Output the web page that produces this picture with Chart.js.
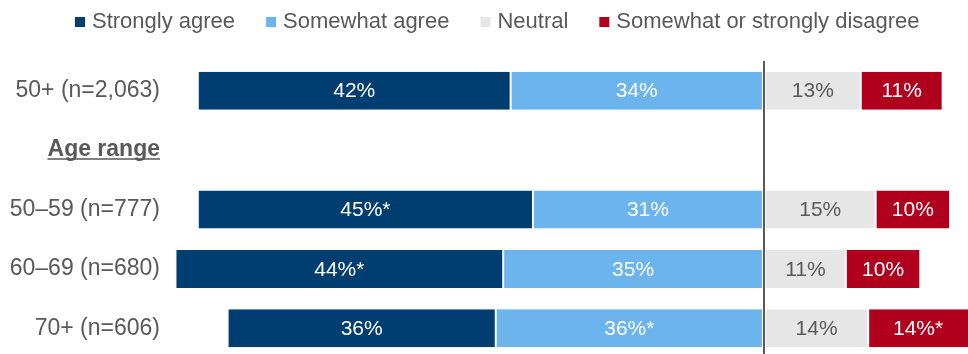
<!DOCTYPE html>
<html>
<head>
    <meta charset="utf-8">
    <title>Agreement by age range</title>
    <style>
        html, body {
            margin: 0;
            padding: 0;
            background: #ffffff;
            overflow: hidden;
        }

        .chart-wrap {
            position: relative;
            width: 968px;
            height: 358px;
        }
    </style>
</head>
<body>
    <div class="chart-wrap">
        <canvas id="chart"></canvas>
    </div>

    <script src="https://cdn.jsdelivr.net/npm/chart.js"></script>
    <script>
        // Rows (the "Age range" row is a heading with no bars)
        var rowLabels = ['50+ (n=2,063)', 'Age range', '50–59 (n=777)', '60–69 (n=680)', '70+ (n=606)'];

        var seriesNames = ['Strongly agree', 'Somewhat agree', 'Neutral', 'Somewhat or strongly disagree'];

        // Percentages per row
        var stronglyAgree = [42, null, 45, 44, 36];
        var somewhatAgree = [34, null, 31, 35, 36];
        var neutral       = [13, null, 15, 11, 14];
        var disagree      = [11, null, 10, 10, 14];

        // Significance markers (*) per row
        var stronglyAgreeStar = [false, false, true, true, false];
        var somewhatAgreeStar = [false, false, false, false, true];
        var neutralStar       = [false, false, false, false, false];
        var disagreeStar      = [false, false, false, false, true];

        var colors = {
            strong: '#003e72',
            somewhat: '#6cb4ee',
            neutral: '#e6e6e6',
            disagree: '#b0001e',
            text: '#595959'
        };
        var fontFamily = '"Liberation Sans", Arial, sans-serif';

        function negate(v) {
            return v == null ? null : -v;
        }

        // agree bars go left of zero, so the inner (somewhat) segment is stacked first
        var datasets = [
            {
                label: seriesNames[1], data: somewhatAgree.map(negate), values: somewhatAgree,
                stars: somewhatAgreeStar, backgroundColor: colors.somewhat, labelColor: '#ffffff'
            },
            {
                label: seriesNames[0], data: stronglyAgree.map(negate), values: stronglyAgree,
                stars: stronglyAgreeStar, backgroundColor: colors.strong, labelColor: '#ffffff'
            },
            {
                label: seriesNames[2], data: neutral, values: neutral,
                stars: neutralStar, backgroundColor: colors.neutral, labelColor: colors.text
            },
            {
                label: seriesNames[3], data: disagree, values: disagree,
                stars: disagreeStar, backgroundColor: colors.disagree, labelColor: '#ffffff'
            }
        ];
        datasets.forEach(function(ds) {
            ds.borderColor = '#ffffff';
            ds.borderWidth = { left: 1, right: 1, top: 0, bottom: 0 };
            ds.borderSkipped = false;
            ds.barPercentage = 38 / 59.4;
            ds.categoryPercentage = 1;
        });

        // Legend across the top
        var topLegend = {
            id: 'topLegend',
            afterDraw: function(chart) {
                var ctx = chart.ctx;
                var legendColors = [colors.strong, colors.somewhat, colors.neutral, colors.disagree];
                var x = 75;
                var y = 22;
                ctx.save();
                ctx.font = '22px ' + fontFamily;
                ctx.textBaseline = 'middle';
                ctx.textAlign = 'left';
                seriesNames.forEach(function(name, i) {
                    ctx.fillStyle = legendColors[i];
                    ctx.fillRect(x, y - 5, 10, 10);
                    ctx.fillStyle = colors.text;
                    ctx.fillText(name, x + 17, y);
                    x += 17 + ctx.measureText(name).width + 31;
                });
                ctx.restore();
            }
        };

        // Percent labels inside each segment
        var segmentLabels = {
            id: 'segmentLabels',
            afterDatasetsDraw: function(chart) {
                var ctx = chart.ctx;
                var area = chart.chartArea;
                ctx.save();
                ctx.font = '21px ' + fontFamily;
                ctx.textAlign = 'center';
                ctx.textBaseline = 'middle';
                chart.data.datasets.forEach(function(ds, di) {
                    var meta = chart.getDatasetMeta(di);
                    meta.data.forEach(function(bar, i) {
                        var v = ds.values[i];
                        if (v == null) return;
                        var left = Math.max(Math.min(bar.x, bar.base), area.left);
                        var right = Math.min(Math.max(bar.x, bar.base), area.right);
                        ctx.fillStyle = ds.labelColor;
                        ctx.fillText(v + '%' + (ds.stars[i] ? '*' : ''), (left + right) / 2, bar.y + 1);
                    });
                });
                ctx.restore();
            }
        };

        // Underline under the "Age range" heading
        var headingUnderline = {
            id: 'headingUnderline',
            afterDraw: function(chart) {
                var ctx = chart.ctx;
                var yScale = chart.scales.y;
                var y = yScale.getPixelForTick(1) + 9;
                var right = yScale.right - 8;
                ctx.save();
                ctx.font = 'bold 23px ' + fontFamily;
                var w = ctx.measureText(rowLabels[1]).width;
                ctx.strokeStyle = colors.text;
                ctx.lineWidth = 1.5;
                ctx.beginPath();
                ctx.moveTo(right - w, y);
                ctx.lineTo(right, y);
                ctx.stroke();
                ctx.restore();
            }
        };

        var ctx = document.getElementById('chart').getContext('2d');
        var myChart = new Chart(ctx, {
            type: 'bar',
            data: {
                labels: rowLabels,
                datasets: datasets
            },
            options: {
                indexAxis: 'y',
                responsive: true,
                maintainAspectRatio: false,
                animation: false,
                layout: {
                    padding: { top: 61, right: 0, bottom: 0, left: 0 }
                },
                plugins: {
                    legend: { display: false },
                    tooltip: { enabled: false }
                },
                scales: {
                    x: {
                        stacked: true,
                        min: -80,
                        max: 27.4,
                        ticks: { display: false, stepSize: 10 },
                        border: { display: false },
                        grid: {
                            drawTicks: false,
                            color: function(c) {
                                return c.tick && c.tick.value === 0 ? colors.text : 'rgba(0,0,0,0)';
                            },
                            lineWidth: 2
                        },
                        afterFit: function(scale) {
                            scale.height = 0;
                        }
                    },
                    y: {
                        stacked: true,
                        border: { display: false },
                        grid: { display: false, drawTicks: false },
                        ticks: {
                            padding: 8,
                            color: colors.text,
                            font: function(c) {
                                return {
                                    family: fontFamily,
                                    size: 23,
                                    weight: c.index === 1 ? 'bold' : 'normal'
                                };
                            }
                        },
                        afterFit: function(scale) {
                            scale.width = 168;
                            // labels sit inside the rows, no extra room needed above/below
                            scale.paddingTop = 0;
                            scale.paddingBottom = 0;
                        }
                    }
                }
            },
            plugins: [topLegend, segmentLabels, headingUnderline]
        });
    </script>
</body>
</html>
